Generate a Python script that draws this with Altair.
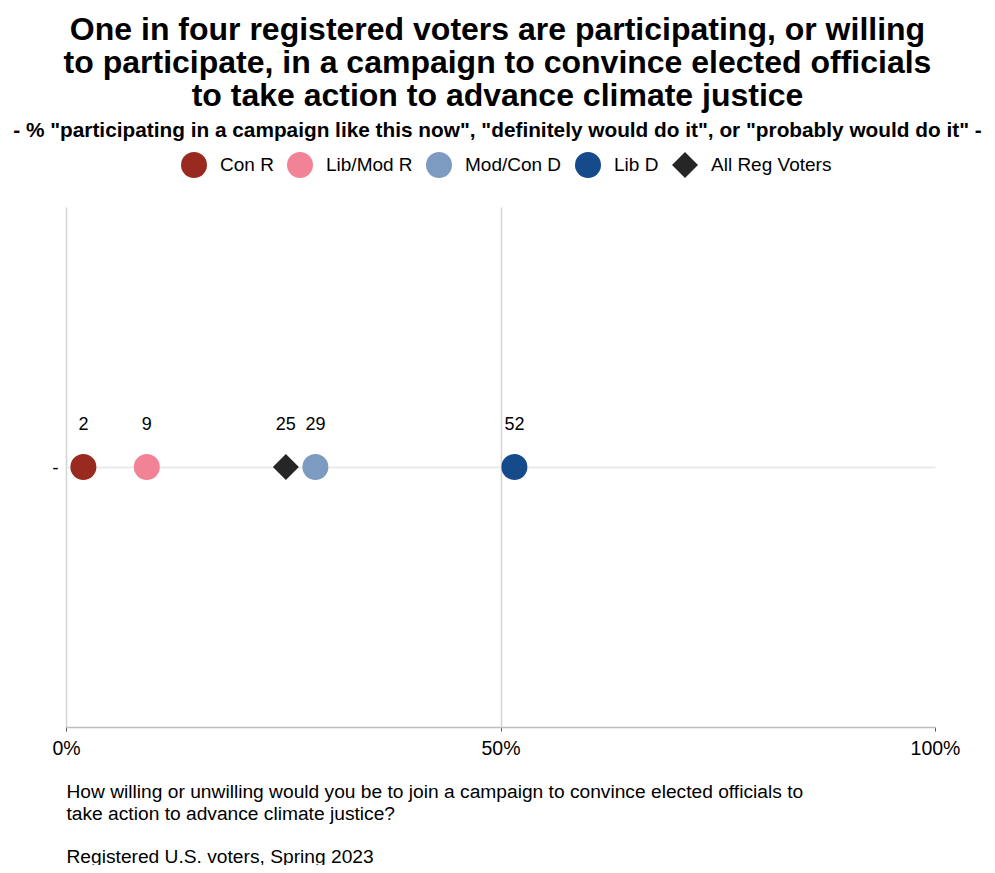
import altair as alt
import pandas as pd

groups = ["Con R", "Lib/Mod R", "Mod/Con D", "Lib D", "All Reg Voters"]
values = [2.0, 9.3, 28.7, 51.6, 25.3]
labels = ["2", "9", "29", "52", "25"]
colors = ["#982A1F", "#F28396", "#7D9BC0", "#154A8B", "#262626"]
shapes = ["circle", "circle", "circle", "circle", "diamond"]
rows = ["-", "-", "-", "-", "-"]
x_ticks = [0, 50, 100]

title_lines = [
    "One in four registered voters are participating, or willing",
    "to participate, in a campaign to convince elected officials",
    "to take action to advance climate justice",
]
subtitle = ('- % "participating in a campaign like this now", '
            '"definitely would do it", or "probably would do it" -')
caption_lines = [
    "How willing or unwilling would you be to join a campaign to convince elected officials to",
    "take action to advance climate justice?",
    "\u200b",
    "Registered U.S. voters, Spring 2023",
]

df = pd.DataFrame({"group": groups, "value": values, "label": labels, "row": rows})

FONT = "Liberation Sans"

x_enc = alt.X(
    "value:Q",
    scale=alt.Scale(domain=[0, 100], nice=False, zero=True),
    axis=alt.Axis(
        values=x_ticks,
        labelExpr="datum.value + '%'",
        grid=True,
        gridColor="#D4D4D4",
        gridWidth=1.5,
        gridOpacity={"condition": {"test": "datum.value >= 100", "value": 0}, "value": 1},
        domainColor="#BDBDBD",
        domainWidth=1.5,
        tickColor="#555555",
        tickSize=4,
        tickWidth=1,
        labelFontSize=19.5,
        labelColor="#000000",
        labelPadding=8,
        labelFlush=False,
        title=caption_lines,
        titleFontSize=19.2,
        titleFontWeight="normal",
        titleColor="#000000",
        titleAnchor="start",
        titleAlign="left",
        titleBaseline="top",
        titleLineHeight=21.5,
        titlePadding=25,
    ),
)

y_enc = alt.Y(
    "row:N",
    axis=alt.Axis(
        title=None,
        domain=False,
        ticks=False,
        labelFontSize=19,
        labelColor="#000000",
        labelPadding=8,
        grid=True,
        gridColor="#EBEBEB",
        gridWidth=2,
        labelAngle=0,
    ),
)

base = alt.Chart(df).encode(x=x_enc, y=y_enc)

points = base.mark_point(filled=True, size=676, opacity=1).encode(
    color=alt.Color(
        "group:N",
        scale=alt.Scale(domain=groups, range=colors),
        legend=alt.Legend(
            orient="none",
            legendX=115,
            legendY=-55,
            direction="horizontal",
            title=None,
            symbolSize=676,
            symbolOpacity=1,
            symbolStrokeWidth=0,
            labelFontSize=19,
            labelColor="#000000",
            labelOffset=13,
            columnPadding=13,
            padding=0,
        ),
    ),
    shape=alt.Shape("group:N", scale=alt.Scale(domain=groups, range=shapes)),
    order=alt.Order("value:Q"),
)

texts = base.mark_text(dy=-42, fontSize=18, color="#000000").encode(text="label:N")

chart = (
    alt.layer(points, texts)
    .properties(
        width=869,
        height=520,
        autosize="none",
        padding={"left": 58, "top": 199, "right": 52, "bottom": 138},
        title=alt.TitleParams(
            text=title_lines,
            subtitle=subtitle,
            fontSize=32,
            fontWeight="bold",
            color="#000000",
            lineHeight=33,
            subtitleFontSize=20.8,
            subtitleFontWeight="bold",
            subtitleColor="#000000",
            subtitlePadding=8,
            anchor="middle",
            offset=10,
            dx=-3,
            font=FONT,
            subtitleFont=FONT,
        ),
    )
    .configure(font=FONT)
    .configure_view(stroke=None)
)

chart.save("out.html", embed_options={"renderer": "svg", "actions": False})
